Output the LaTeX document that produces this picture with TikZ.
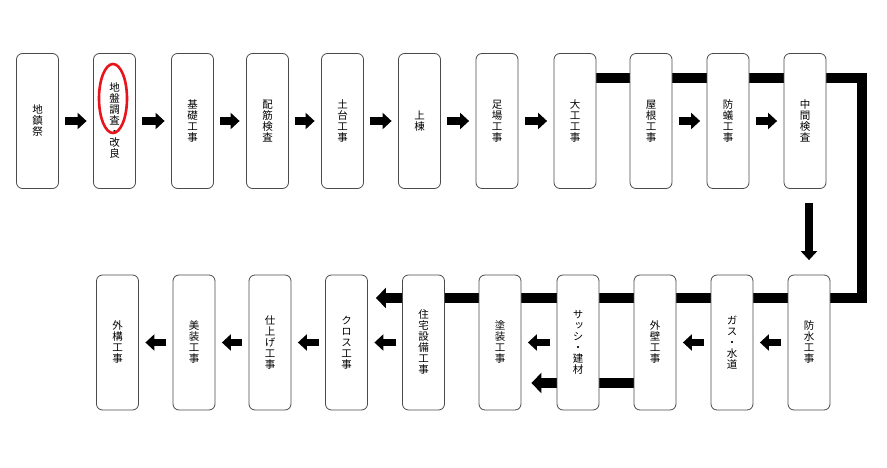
\documentclass[tikz,border=0pt]{standalone}
\usepackage{fontspec}
\newfontfamily\jpfont[RawFeature=+vert]{Noto Sans CJK JP}
\usepackage{xcolor}
\usepackage{tikz}
\usetikzlibrary{calc,arrows.meta,backgrounds}
\definecolor{paper}{HTML}{FFFFFF}
\definecolor{boxline}{HTML}{4A4A4A}
\definecolor{ink}{HTML}{000000}
\definecolor{markred}{HTML}{E8141B}
\tikzset{
  stepBox/.style={draw=boxline, fill=paper, line width=0.8pt, rounded corners=6pt,
    minimum width=42pt, minimum height=135pt, inner sep=0pt, align=center,
    text=ink, font=\jpfont\fontsize{10.5}{11}\selectfont},
  flowArrow/.style={draw=ink, line width=7.5pt, -{Triangle[width=16pt,length=9pt]}},
  mainBar/.style={draw=ink, line width=10pt, -{Triangle[width=20pt,length=10pt]}},
  redMark/.style={draw=markred, line width=2.6pt},
}

\begin{document}
\begin{tikzpicture}[x=1pt, y=-1pt]
  \useasboundingbox (0,0) rectangle (887,468);

  \node[stepBox] (jichin) at (37.5,121) {地\\鎮\\祭};
  \node[stepBox] (jiban)  at (114.5,121) {地\\盤\\調\\査\\・\\改\\良};
  \node[stepBox] (kiso)   at (192.5,121) {基\\礎\\工\\事};
  \node[stepBox] (haikin) at (267.5,121) {配\\筋\\検\\査};
  \node[stepBox] (dodai)  at (342.5,121) {土\\台\\工\\事};
  \node[stepBox] (joto)   at (419.5,121) {上\\棟};
  \node[stepBox] (ashiba) at (497,121) {足\\場\\工\\事};
  \node[stepBox] (daiku)  at (575,121) {大\\工\\工\\事};
  \node[stepBox] (yane)   at (651,121) {屋\\根\\工\\事};
  \node[stepBox] (boui)   at (728,121) {防\\蟻\\工\\事};
  \node[stepBox] (chukan) at (805,121) {中\\間\\検\\査};

  \node[stepBox] (bousui)  at (809,342.5) {防\\水\\工\\事};
  \node[stepBox] (gas)     at (732,342.5) {ガ\\ス\\・\\水\\道};
  \node[stepBox] (gaiheki) at (655,342.5) {外\\壁\\工\\事};
  \node[stepBox] (sash)    at (578,342.5) {サ\\ッ\\シ\\・\\建\\材};
  \node[stepBox] (tosou)   at (500,342.5) {塗\\装\\工\\事};
  \node[stepBox] (jutaku)  at (423.5,342.5) {住\\宅\\設\\備\\工\\事};
  \node[stepBox] (kurosu)  at (346.5,342.5) {ク\\ロ\\ス\\工\\事};
  \node[stepBox] (shiage)  at (270,342.5) {仕\\上\\げ\\工\\事};
  \node[stepBox] (bisou)   at (194,342.5) {美\\装\\工\\事};
  \node[stepBox] (gaikou)  at (117.5,342.5) {外\\構\\工\\事};

  \coordinate (turnTop) at (862,78);
  \coordinate (turnBot) at (862,298);

  \begin{scope}[on background layer]
    \fill[paper] (0,0) rectangle (887,468);
    \draw[mainBar] (daiku.east |- turnTop) -- (turnTop) -- (turnBot) -- ($(kurosu.east |- turnBot)+(8,0)$);
    \draw[mainBar] ($(gaiheki.center)+(0,40.5)$) -- ($(tosou.east)+(10,40.5)$);
  \end{scope}

  \draw[flowArrow] ($(jichin.east)+(6.5,0)$) -- ($(jiban.west)+(-6.5,0)$);
  \draw[flowArrow] ($(jiban.east)+(6.5,0)$) -- ($(kiso.west)+(-6.5,0)$);
  \draw[flowArrow] ($(kiso.east)+(6.5,0)$) -- ($(haikin.west)+(-6.5,0)$);
  \draw[flowArrow] ($(haikin.east)+(6.5,0)$) -- ($(dodai.west)+(-6.5,0)$);
  \draw[flowArrow] ($(dodai.east)+(6.5,0)$) -- ($(joto.west)+(-6.5,0)$);
  \draw[flowArrow] ($(joto.east)+(6.5,0)$) -- ($(ashiba.west)+(-6.5,0)$);
  \draw[flowArrow] ($(ashiba.east)+(6.5,0)$) -- ($(daiku.west)+(-6.5,0)$);
  \draw[flowArrow] ($(yane.east)+(6.5,0)$) -- ($(boui.west)+(-6.5,0)$);
  \draw[flowArrow] ($(boui.east)+(6.5,0)$) -- ($(chukan.west)+(-6.5,0)$);

  \draw[flowArrow] ($(chukan.south)+(4,14.5)$) -- ($(bousui.north)+(0,-14.5)$);

  \draw[flowArrow] ($(bousui.west)+(-6.5,0)$) -- ($(gas.east)+(6.5,0)$);
  \draw[flowArrow] ($(gas.west)+(-6.5,0)$) -- ($(gaiheki.east)+(6.5,0)$);
  \draw[flowArrow] ($(sash.west)+(-6.5,0)$) -- ($(tosou.east)+(6.5,0)$);
  \draw[flowArrow] ($(jutaku.west)+(-6.5,0)$) -- ($(kurosu.east)+(6.5,0)$);
  \draw[flowArrow] ($(kurosu.west)+(-6.5,0)$) -- ($(shiage.east)+(6.5,0)$);
  \draw[flowArrow] ($(shiage.west)+(-6.5,0)$) -- ($(bisou.east)+(6.5,0)$);
  \draw[flowArrow] ($(bisou.west)+(-6.5,0)$) -- ($(gaikou.east)+(6.5,0)$);

  \draw[redMark] ($(jiban.center)+(-1.5,-22.5)$) ellipse [x radius=14pt, y radius=34.5pt];
\end{tikzpicture}
\end{document}
